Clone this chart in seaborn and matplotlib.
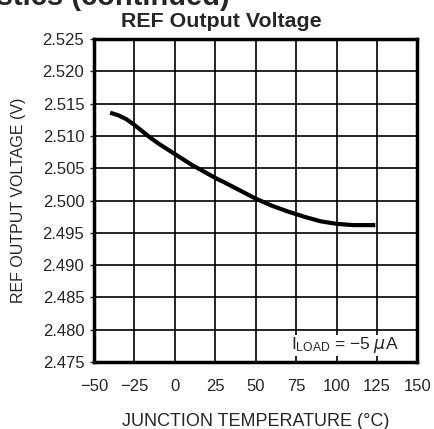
"""
plot.py

Curva de tensión de salida REF frente a temperatura de unión,
estilo hoja de datos (rejilla negra, marco grueso).
"""

import matplotlib
matplotlib.use("Agg")
import matplotlib.pyplot as plt
import pandas as pd
import seaborn as sns

# =========================
# Datos
# =========================

temperature = [-40, -35, -30, -25, -20, -15, -10, -5, 0, 10, 20, 25, 30, 40,
               50, 60, 70, 75, 80, 90, 100, 110, 124]
ref_voltage = [2.5136, 2.5132, 2.5126, 2.5117, 2.5107, 2.5097, 2.5088, 2.5080,
               2.5072, 2.5056, 2.5042, 2.5035, 2.5029, 2.5016, 2.5003, 2.4992,
               2.4983, 2.4979, 2.4975, 2.4968, 2.4964, 2.4962, 2.4962]

x_ticks = [-50, -25, 0, 25, 50, 75, 100, 125, 150]
y_ticks = [2.475, 2.480, 2.485, 2.490, 2.495, 2.500, 2.505, 2.510, 2.515, 2.520, 2.525]

title = "REF Output Voltage"
header = "Typical Performance Characteristics (continued)"
x_label = "JUNCTION TEMPERATURE (°C)"
y_label = "REF OUTPUT VOLTAGE (V)"
note = r"$\mathregular{I_{LOAD}}$ = −5 $\mu$A"


def main():
    sns.set_style("white")
    plt.rcParams["font.family"] = ["Liberation Sans", "DejaVu Sans"]

    df = pd.DataFrame({"temp": temperature, "vref": ref_voltage})

    fig = plt.figure(figsize=(4.34, 4.29), dpi=100)
    ax = fig.add_axes([0.2166, 0.156, 0.745, 0.753])

    sns.lineplot(data=df, x="temp", y="vref", color="black", linewidth=3,
                 solid_joinstyle="round", solid_capstyle="butt",
                 ax=ax, zorder=3)

    ax.set_xlim(-50, 150)
    ax.set_ylim(2.475, 2.525)
    ax.set_xticks(x_ticks)
    ax.set_yticks(y_ticks)
    # signo menos tipográfico como en la hoja de datos
    ax.set_xticklabels([str(t).replace("-", "−") for t in x_ticks])
    ax.set_yticklabels([f"{v:.3f}" for v in y_ticks])

    ax.grid(True, color="black", linewidth=1.2)
    ax.set_axisbelow(True)
    for spine in ax.spines.values():
        spine.set_visible(True)
        spine.set_color("black")
        spine.set_linewidth(2.5)

    ax.tick_params(axis="y", length=3, width=1, pad=4, labelsize=12,
                   direction="out", left=True)
    ax.tick_params(axis="x", length=0, pad=12, labelsize=12)

    ax.set_xlabel(x_label, fontsize=13, labelpad=14)
    ax.set_ylabel(y_label, fontsize=11.5, labelpad=12)

    ax.text(105, 2.4776, note, fontsize=12.5, ha="center", va="center",
            zorder=4, bbox=dict(facecolor="white", edgecolor="none", pad=0.5))

    fig.text(0.509, 0.937, title, fontsize=15.4, fontweight="bold",
             ha="center", va="baseline")
    fig.text(0.53, 0.988, header, fontsize=21, fontweight="bold",
             ha="right", va="baseline")

    fig.savefig("out.png", dpi=100)
    plt.close(fig)


if __name__ == "__main__":
    main()
